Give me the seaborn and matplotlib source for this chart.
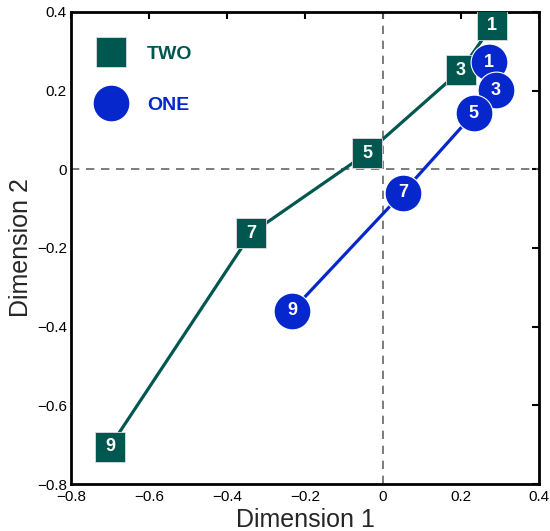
import numpy as np
import pandas as pd
import matplotlib
matplotlib.use("Agg")
import matplotlib.pyplot as plt
import seaborn as sns
from matplotlib.lines import Line2D

# =========================
# data
# =========================
labels = ["1", "3", "5", "7", "9"]
two_x = [0.28, 0.20, -0.041, -0.338, -0.70]
two_y = [0.366, 0.252, 0.041, -0.163, -0.705]
one_x = [0.271, 0.289, 0.233, 0.051, -0.233]
one_y = [0.272, 0.201, 0.142, -0.059, -0.359]

ticks = [-0.8, -0.6, -0.4, -0.2, 0, 0.2, 0.4]
tick_labels = ["\u22120.8", "\u22120.6", "\u22120.4", "\u22120.2", "0", "0.2", "0.4"]

green = "#00574f"
blue = "#0527cc"

sns.set_style("white")
plt.rcParams["font.family"] = ["Liberation Sans", "DejaVu Sans"]

fig = plt.figure(figsize=(5.5, 5.31), dpi=100)
ax = fig.add_axes([0.129, 0.0885, 0.851, 0.889])

ax.axhline(0, color="#666666", ls=(0, (5, 4)), lw=1.2, zorder=1)
ax.axvline(0, color="#666666", ls=(0, (5, 4)), lw=1.2, zorder=1)

two = pd.DataFrame({"x": two_x, "y": two_y, "lab": labels})
one = pd.DataFrame({"x": one_x, "y": one_y, "lab": labels})

sns.lineplot(data=two, x="x", y="y", sort=False, estimator=None, ax=ax,
             color=green, lw=2.3, zorder=2)
sns.lineplot(data=one, x="x", y="y", sort=False, estimator=None, ax=ax,
             color=blue, lw=2.3, zorder=2)

# markers with numbers
for i, r in two.iterrows():
    ax.plot(r.x, r.y, marker="s", ms=21, color=green, mec="#dddddd", mew=0.6,
            zorder=3 + i * 0.01)
    ax.text(r.x, r.y, r.lab, color="white", fontsize=13, fontweight="bold",
            ha="center", va="center", zorder=3 + i * 0.01 + 0.005)
for i, r in one.iterrows():
    ax.plot(r.x, r.y, marker="o", ms=26.5, color=blue, mec="white", mew=0.8,
            zorder=4 + i * 0.01)
    ax.text(r.x, r.y, r.lab, color="white", fontsize=13, fontweight="bold",
            ha="center", va="center", zorder=4 + i * 0.01 + 0.005)

ax.set_xlim(-0.8, 0.4)
ax.set_ylim(-0.8, 0.4)
ax.set_xticks(ticks)
ax.set_xticklabels(tick_labels)
ax.set_yticks(ticks)
ax.set_yticklabels(tick_labels)
ax.tick_params(direction="in", length=5, width=1.5, labelsize=11,
               top=True, right=True, colors="black", pad=4)
ax.tick_params(axis="y", pad=3)
for s in ax.spines.values():
    s.set_linewidth(2)
    s.set_color("black")

ax.set_xlabel("Dimension 1", fontsize=18, labelpad=3)
ax.set_ylabel("Dimension 2", fontsize=18, labelpad=3)

handles = [
    Line2D([], [], ls="none", marker="s", ms=21, color=green, mec="#dddddd", mew=0.6),
    Line2D([], [], ls="none", marker="o", ms=26.5, color=blue, mec="white", mew=0.8),
]
leg = ax.legend(handles, ["TWO", "ONE"], loc="upper left",
                bbox_to_anchor=(0.023, 0.966), frameon=False,
                labelspacing=1.7, handletextpad=1.25, handlelength=1.2,
                prop={"weight": "bold", "size": 14})
for t, c in zip(leg.get_texts(), [green, blue]):
    t.set_color(c)

fig.savefig("out.png", dpi=100)
